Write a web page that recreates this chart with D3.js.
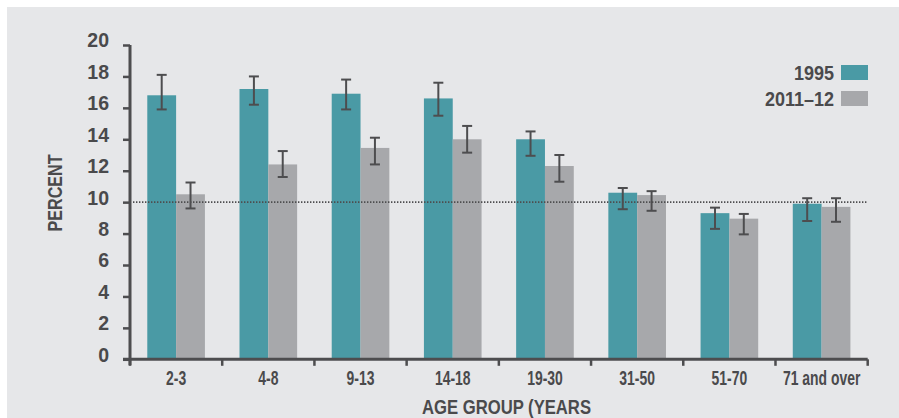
<!DOCTYPE html>
<html>
<head>
<meta charset="utf-8">
<script src="https://cdn.jsdelivr.net/npm/d3@7/dist/d3.min.js"></script>
<style>
  html, body { margin: 0; padding: 0; background: #ffffff; }
  svg { display: block; }
  text { font-family: "Liberation Sans", Arial, sans-serif; fill: #4a4a4c; }
</style>
</head>
<body>
<svg id="chart" width="899" height="418"></svg>
<script>
const categories = ["2-3", "4-8", "9-13", "14-18", "19-30", "31-50", "51-70", "71 and over"];
const seriesNames = ["1995", "2011\u201312"];
const v1995 = [16.8, 17.2, 16.9, 16.6, 14.0, 10.6, 9.3, 9.9];
const lo1995 = [15.9, 16.2, 15.9, 15.5, 12.95, 9.55, 8.3, 8.8];
const hi1995 = [18.1, 18.0, 17.8, 17.6, 14.5, 10.9, 9.65, 10.25];
const v2011 = [10.5, 12.4, 13.45, 14.0, 12.3, 10.45, 8.95, 9.7];
const lo2011 = [9.6, 11.6, 12.4, 13.15, 11.3, 9.45, 7.95, 8.75];
const hi2011 = [11.25, 13.25, 14.1, 14.85, 13.0, 10.7, 9.25, 10.25];
const yTicks = [0, 2, 4, 6, 8, 10, 12, 14, 16, 18, 20];
const referenceValue = 10;
const yTitle = "PERCENT";
const xTitle = "AGE GROUP (YEARS";

const colors = { "1995": "#4a9aa5", "2011\u201312": "#a7a8ab" };
const dark = "#4d4d4f";

const svg = d3.select("#chart");
svg.append("rect").attr("x", 7).attr("y", 7).attr("width", 892).attr("height", 411).attr("fill", "#e6e7e9");

const x = d3.scaleBand().domain(categories).range([130, 867.7]).paddingInner(0.375).paddingOuter(0.1875);
const x1 = d3.scaleBand().domain(seriesNames).range([0, x.bandwidth()]);
const y = d3.scaleLinear().domain([0, 20]).range([359.3, 45]);

const data = categories.map((c, i) => ({
  cat: c,
  vals: [
    { s: seriesNames[0], v: v1995[i], lo: lo1995[i], hi: hi1995[i] },
    { s: seriesNames[1], v: v2011[i], lo: lo2011[i], hi: hi2011[i] }
  ]
}));

// bars
const g = svg.append("g");
const groups = g.selectAll("g.grp").data(data).join("g").attr("transform", d => `translate(${x(d.cat)},0)`);
groups.selectAll("rect").data(d => d.vals).join("rect")
  .attr("x", d => x1(d.s)).attr("width", x1.bandwidth())
  .attr("y", d => y(d.v)).attr("height", d => y(0) - y(d.v))
  .attr("fill", d => colors[d.s]);

// reference dotted line
svg.append("line")
  .attr("x1", 133).attr("x2", x.range()[1])
  .attr("y1", y(referenceValue)).attr("y2", y(referenceValue))
  .attr("stroke", dark).attr("stroke-width", 1.6).attr("stroke-dasharray", "1.4,1.6");

// error bars
const eb = groups.selectAll("g.eb").data(d => d.vals).join("g").attr("class", "eb")
  .attr("transform", d => `translate(${x1(d.s) + x1.bandwidth() / 2},0)`);
eb.append("line").attr("x1", 0).attr("x2", 0).attr("y1", d => y(d.hi)).attr("y2", d => y(d.lo))
  .attr("stroke", dark).attr("stroke-width", 2);
eb.append("line").attr("x1", -5).attr("x2", 5).attr("y1", d => y(d.hi)).attr("y2", d => y(d.hi))
  .attr("stroke", dark).attr("stroke-width", 2);
eb.append("line").attr("x1", -5).attr("x2", 5).attr("y1", d => y(d.lo)).attr("y2", d => y(d.lo))
  .attr("stroke", dark).attr("stroke-width", 2);

// y axis
const yAxis = svg.append("g").attr("transform", `translate(130,0)`)
  .call(d3.axisLeft(y).tickValues(yTicks).tickSize(7).tickPadding(14).tickSizeOuter(0));
yAxis.select(".domain").attr("stroke", dark).attr("stroke-width", 3).attr("d", `M0,${y(20)}V${y(0) + 6}`);
yAxis.selectAll(".tick line").attr("stroke", dark).attr("stroke-width", 2.5);
yAxis.selectAll(".tick text").attr("dy", "0.1em")
  .style("font-size", "19.5px").style("font-weight", "bold").attr("fill", "#4a4a4c");

// x axis
const xAxis = svg.append("g").attr("transform", `translate(0,${y(0)})`)
  .call(d3.axisBottom(x).tickSize(0).tickPadding(0));
xAxis.select(".domain").attr("stroke", dark).attr("stroke-width", 3)
  .attr("d", `M${x.range()[0] - 7},0H${x.range()[1]}`);
xAxis.selectAll(".tick text").attr("y", 0).attr("dy", 0)
  .attr("transform", "translate(0,25.5) scale(0.68,1)")
  .style("font-size", "20.5px").style("font-weight", "bold").attr("fill", "#4a4a4c");
const boundaries = categories.map(c => x(c) + x.bandwidth() / 2 - x.step() / 2);
boundaries.push(boundaries[boundaries.length - 1] + x.step());
xAxis.selectAll("line.bt").data(boundaries).join("line").attr("class", "bt")
  .attr("x1", d => d).attr("x2", d => d).attr("y1", 0).attr("y2", 6.5)
  .attr("stroke", dark).attr("stroke-width", 2.5);

// axis titles
svg.append("text").attr("transform", "translate(62,193) rotate(-90)")
  .attr("text-anchor", "middle").attr("textLength", 77).attr("lengthAdjust", "spacingAndGlyphs")
  .style("font-size", "19.5px").style("font-weight", "bold").text(yTitle);
svg.append("text").attr("x", 422).attr("y", 413.5)
  .attr("textLength", 169).attr("lengthAdjust", "spacingAndGlyphs")
  .style("font-size", "20.5px").style("font-weight", "bold").text(xTitle);

// legend
const legend = svg.append("g");
const legY = [65, 91];
seriesNames.forEach((s, i) => {
  legend.append("rect").attr("x", 841).attr("y", legY[i]).attr("width", 27).attr("height", 15).attr("fill", colors[s]);
  legend.append("text").attr("transform", `translate(834,${legY[i] + 15}) scale(0.9,1)`)
    .attr("text-anchor", "end").style("font-size", "20px").style("font-weight", "bold").text(s);
});
</script>
</body>
</html>
